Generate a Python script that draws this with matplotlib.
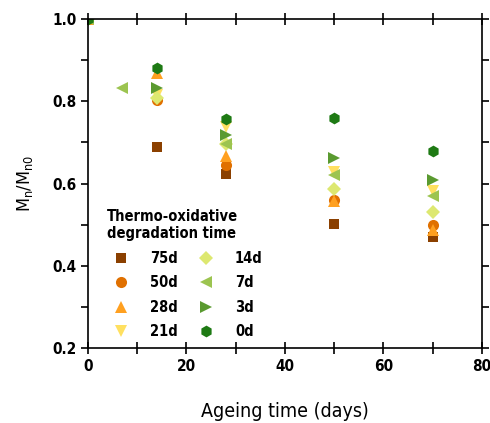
import matplotlib
matplotlib.use("Agg")
import matplotlib.pyplot as plt
from matplotlib.ticker import MultipleLocator

plt.rcParams['font.family'] = ['DejaVu Sans']
plt.rcParams['font.stretch'] = 'condensed'
plt.rcParams['font.weight'] = 'bold'
plt.rcParams['mathtext.default'] = 'regular'

# ageing time (days) and Mn/Mn0 for each pre-degradation time
labels = ["75d", "50d", "28d", "21d", "14d", "7d", "3d", "0d"]
markers = ["s", "o", "^", "v", "D", "<", ">", "h"]
msizes = [7, 8, 8.5, 8.5, 7, 8.5, 8.5, 8.5]
colors = ["#8B4000", "#E07000", "#FFA020", "#FFE060",
          "#DDE870", "#9CC450", "#5A9A30", "#1E7A14"]

days_75 = [0, 14, 28, 50, 70]
vals_75 = [1.0, 0.690, 0.623, 0.502, 0.469]
days_50 = [0, 14, 28, 50, 70]
vals_50 = [1.0, 0.803, 0.644, 0.560, 0.500]
days_28 = [0, 14, 28, 50, 70]
vals_28 = [1.0, 0.870, 0.667, 0.558, 0.487]
days_21 = [0, 14, 28, 50, 70]
vals_21 = [1.0, 0.815, 0.738, 0.629, 0.581]
days_14 = [0, 14, 28, 50, 70]
vals_14 = [1.0, 0.807, 0.696, 0.587, 0.532]
days_7 = [0, 7, 28, 50, 70]
vals_7 = [1.0, 0.833, 0.696, 0.621, 0.570]
days_3 = [0, 14, 28, 50, 70]
vals_3 = [1.0, 0.833, 0.717, 0.663, 0.608]
days_0 = [0, 14, 28, 50, 70]
vals_0 = [1.0, 0.881, 0.756, 0.759, 0.678]

days = [days_75, days_50, days_28, days_21, days_14, days_7, days_3, days_0]
vals = [vals_75, vals_50, vals_28, vals_21, vals_14, vals_7, vals_3, vals_0]

fig = plt.figure(figsize=(4.9, 4.23), dpi=100)
ax = fig.add_axes([0.1796, 0.177, 0.804, 0.778])

for d, v, lab, m, ms, c in zip(days, vals, labels, markers, msizes, colors):
    ax.plot(d, v, linestyle="none", marker=m, color=c, markersize=ms,
            markeredgewidth=0, label=lab)

ax.set_xlim(0, 80)
ax.set_ylim(0.2, 1.0)
ax.xaxis.set_major_locator(MultipleLocator(20))
ax.xaxis.set_minor_locator(MultipleLocator(10))
ax.yaxis.set_major_locator(MultipleLocator(0.2))
ax.yaxis.set_minor_locator(MultipleLocator(0.1))
ax.tick_params(which="both", top=True, right=True, direction="out",
               length=5, width=1.2, labelsize=11)
ax.tick_params(axis="x", which="both", bottom=True, direction="inout", length=9)
for s in ax.spines.values():
    s.set_linewidth(1.2)

ax.set_xlabel("Ageing time (days)", fontsize=14, labelpad=20)
ax.set_ylabel("M$_{n}$/M$_{n0}$", fontsize=13, labelpad=12)

leg = ax.legend(title="Thermo-oxidative\ndegradation time", ncol=2,
                loc="lower left", bbox_to_anchor=(0.025, 0.0),
                frameon=False, fontsize=10.5,
                title_fontsize=10.5, handletextpad=1.0, columnspacing=0.9,
                labelspacing=0.65, borderaxespad=0.2)
leg._legend_box.align = "left"

fig.savefig("out.png", dpi=100)
